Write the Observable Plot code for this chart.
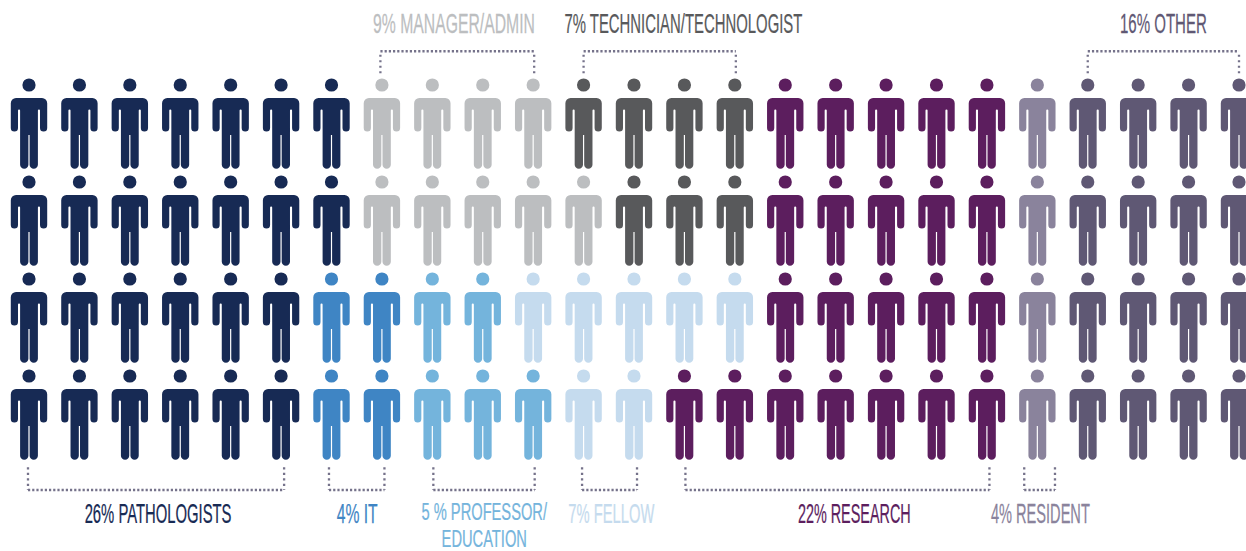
<!DOCTYPE html>
<html>
<head>
<meta charset="utf-8">
<script src="https://cdn.jsdelivr.net/npm/d3@7"></script>
<script src="https://cdn.jsdelivr.net/npm/@observablehq/plot@0.6"></script>
<style>html,body{margin:0;padding:0;background:#fff;overflow:hidden}svg{display:block}</style>
</head>
<body>
<div id="chart"></div>
<script>
// One letter per person, one string per row of the pictogram
const row0 = "PPPPPPPMMMMTTTTRRRRRSOOOO";
const row1 = "PPPPPPPMMMMMTTTRRRRRSOOOO";
const row2 = "PPPPPPIIEEFFFFFRRRRRSOOOO";
const row3 = "PPPPPPIIEEEFFRRRRRRRSOOOO";
const rows = [row0, row1, row2, row3];

const groupKeys = ["P", "I", "E", "F", "M", "T", "R", "S", "O"];
const groupColors = ["#172a54", "#3f85c4", "#74b4dc", "#c5dbee", "#bcbec0", "#58595b", "#5c1e5e", "#8a839c", "#5f5874"];

const labelTexts = ["26% PATHOLOGISTS", "4% IT", "7% FELLOW", "22% RESEARCH", "4% RESIDENT", "9% MANAGER/ADMIN", "7% TECHNICIAN/TECHNOLOGIST", "16% OTHER", "5 % PROFESSOR/\nEDUCATION"];
const labelGroups = ["P", "I", "F", "R", "S", "M", "T", "O", "E"];
const labelCols = [2.56, 6.51, 11.55, 16.37, 20.06, 8.43, 12.98, 22.5, 9.03];
const labelRows = [4.43, 4.43, 4.43, 4.43, 4.43, -0.63, -0.63, -0.63, 4.536];
const labelWidths = [147, 41, 86, 113, 99, 162, 238, 87, 211];

const bracketCols = [[-0.02, 5.06], [5.95, 7.05], [8.02, 10.03], [10.97, 12.06], [13.02, 19.05], [19.74, 20.35], [6.97, 10.02], [11.0, 14.02], [21.0, 24.0]];
const bracketRows = [[3.94, 4.175], [3.94, 4.175], [3.94, 4.175], [3.94, 4.175], [3.94, 4.175], [3.94, 4.175], [-0.12, -0.348], [-0.12, -0.348], [-0.12, -0.348]];

const people = rows.flatMap((r, row) => Array.from(r, (g, col) => ({col, row, g})));
const labels = labelTexts.map((t, i) => ({t, g: labelGroups[i], x: labelCols[i], y: labelRows[i]}));
const bracketSpans = bracketCols.map(([a, b], i) => ({a, b, r0: bracketRows[i][0], r1: bracketRows[i][1]}));

const colorOf = g => groupColors[groupKeys.indexOf(g)];

const person = {
  draw(c, size) {
    const k = Math.sqrt(size / Math.PI) / 10;
    const r = 6.6 * k;
    c.moveTo(r, 0);
    c.arc(0, 0, r, 0, 2 * Math.PI);
    c.closePath();
    const X = v => v * k, Y = v => v * k, N = v => -v * k;
    c.moveTo(X(0), Y(13));
    c.lineTo(X(13), Y(13));
    c.arcTo(X(18.2), Y(13), X(18.2), Y(18.2), 5.2 * k);
    c.lineTo(X(18.2), Y(43));
    c.arcTo(X(18.2), Y(46.6), X(14.6), Y(46.6), 3.6 * k);
    c.arcTo(X(11), Y(46.6), X(11), Y(43), 3.6 * k);
    c.lineTo(X(11), Y(25.5));
    c.arcTo(X(11), Y(24.4), X(10), Y(24.4), 1 * k);
    c.arcTo(X(8.9), Y(24.4), X(8.9), Y(25.5), 1 * k);
    c.lineTo(X(8.9), Y(79.4));
    c.arcTo(X(8.9), Y(83.8), X(4.75), Y(83.8), 4.15 * k);
    c.arcTo(X(0.6), Y(83.8), X(0.6), Y(79.4), 4.15 * k);
    c.lineTo(X(0.6), Y(50));
    c.lineTo(N(0.6), Y(50));
    c.lineTo(N(0.6), Y(79.4));
    c.arcTo(N(0.6), Y(83.8), N(4.75), Y(83.8), 4.15 * k);
    c.arcTo(N(8.9), Y(83.8), N(8.9), Y(79.4), 4.15 * k);
    c.lineTo(N(8.9), Y(25.5));
    c.arcTo(N(8.9), Y(24.4), N(10), Y(24.4), 1 * k);
    c.arcTo(N(11), Y(24.4), N(11), Y(25.5), 1 * k);
    c.lineTo(N(11), Y(43));
    c.arcTo(N(11), Y(46.6), N(14.6), Y(46.6), 3.6 * k);
    c.arcTo(N(18.2), Y(46.6), N(18.2), Y(43), 3.6 * k);
    c.lineTo(N(18.2), Y(18.2));
    c.arcTo(N(18.2), Y(13), N(13), Y(13), 5.2 * k);
    c.closePath();
  }
};

const dotted = {stroke: "#75728a", strokeWidth: 2.3};
const textStyle = {
  x: "x", y: "y", text: "t", fill: d => colorOf(d.g), stroke: d => colorOf(d.g), strokeWidth: 0.25,
  fontFamily: "'Liberation Sans Narrow','Liberation Sans',sans-serif",
  textAnchor: "middle", lineAnchor: "middle"
};

const plot = Plot.plot({
  width: 1246,
  height: 551,
  margin: 0,
  style: {background: "#fff"},
  x: {domain: [0, 24], range: [28.5, 1238.5], axis: null},
  y: {domain: [0, 3], range: [84.5, 375.5], axis: null},
  color: {type: "ordinal", domain: groupKeys, range: groupColors},
  marks: [
    Plot.link(bracketSpans, {x1: "a", x2: "b", y1: "r1", y2: "r1", ...dotted, strokeDasharray: "2.2 2"}),
    Plot.link(bracketSpans, {x1: "a", x2: "a", y1: "r0", y2: "r1", ...dotted, strokeDasharray: "2.2 3.3"}),
    Plot.link(bracketSpans, {x1: "b", x2: "b", y1: "r0", y2: "r1", ...dotted, strokeDasharray: "2.2 3.3"}),
    Plot.dot(people, {x: "col", y: "row", r: 10, symbol: person, fill: "g", stroke: null}),
    Plot.text(labels.filter(d => !d.t.includes("\n")), {...textStyle, fontSize: 27}),
    Plot.text(labels.filter(d => d.t.includes("\n")), {...textStyle, fontSize: 24, lineHeight: 1.117})
  ]
});

document.getElementById("chart").append(plot);

// Squeeze each label horizontally to the narrow proportions of the original lettering
plot.querySelectorAll('g[aria-label="text"] text').forEach((el, i) => {
  const len = el.getComputedTextLength();
  const t = el.getAttribute("transform") || "";
  el.setAttribute("transform", `${t} scale(${labelWidths[i] / len},1)`);
});
</script>
</body>
</html>
